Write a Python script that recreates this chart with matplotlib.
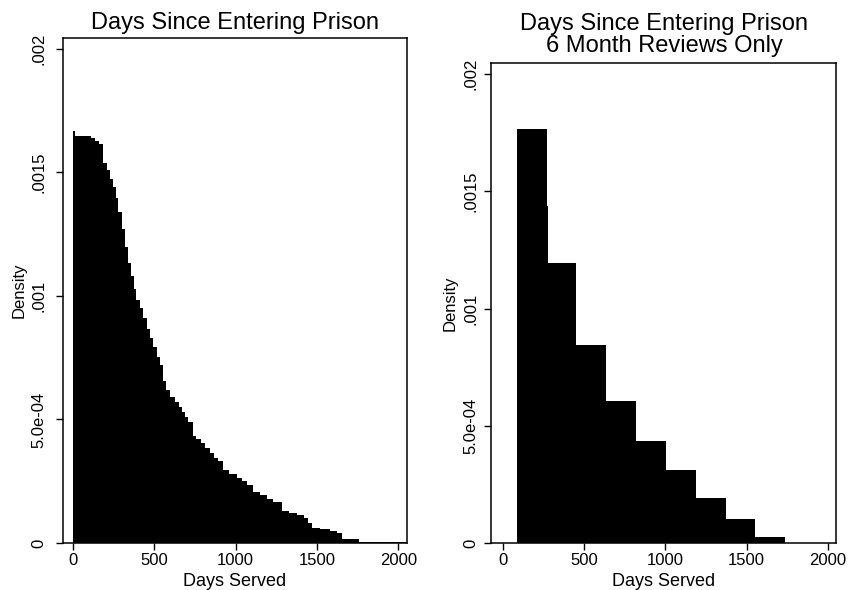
import numpy as np
import matplotlib
matplotlib.use("Agg")
import matplotlib.pyplot as plt

plt.rcParams['font.family'] = ['Liberation Sans', 'DejaVu Sans']

# all reviews: bin edges (days) and density
all_edges = [0, 15, 60, 115, 135, 160, 187, 210, 230, 250, 265, 280, 300, 320,
             340, 360, 375, 390, 410, 430, 455, 475, 495, 515, 535, 557, 575,
             600, 625, 650, 670, 690, 710, 737, 760, 785, 810, 840, 865, 895,
             925, 960, 1010, 1040, 1070, 1109, 1150, 1195, 1230, 1283, 1330,
             1380, 1420, 1445, 1468, 1520, 1580, 1620, 1652, 1760, 2050]
all_density = [0.001668, 0.001648, 0.001646, 0.001640, 0.001628, 0.001614,
               0.001540, 0.001512, 0.001475, 0.001440, 0.001395, 0.001340,
               0.001270, 0.001200, 0.001135, 0.001080, 0.001030, 0.000985,
               0.000950, 0.000910, 0.000865, 0.000830, 0.000795, 0.000755,
               0.000720, 0.000655, 0.000620, 0.000590, 0.000570, 0.000550,
               0.000530, 0.000510, 0.000490, 0.000435, 0.000420, 0.000405,
               0.000385, 0.000365, 0.000345, 0.000330, 0.000295, 0.000280,
               0.000265, 0.000250, 0.000235, 0.000205, 0.000195, 0.000180,
               0.000165, 0.000130, 0.000120, 0.000112, 0.000100, 0.000082,
               0.000062, 0.000055, 0.000048, 0.000040, 0.000016, 0.000006]

# 6 month reviews only
six_edges = [86, 270, 281, 448, 635, 819, 1003, 1187, 1372, 1554, 1734]
six_density = [0.001765, 0.001438, 0.001193, 0.000843, 0.000605, 0.000437,
               0.000313, 0.000194, 0.000103, 0.000024]

yticks = [0, 0.0005, 0.001, 0.0015, 0.002]
ylabels = ['0', '5.0e-04', '.001', '.0015', '.002']
xticks = [0, 500, 1000, 1500, 2000]

W, H = 849, 590
fig = plt.figure(figsize=(W / 100, H / 100), dpi=100)


def panel(rect, edges, dens, xlim, ytop, ypad, ylab_x, xlab_y):
    ax = fig.add_axes(rect)
    ax.stairs(dens, edges, fill=True, color='black', linewidth=0)
    ax.set_xlim(*xlim)
    ax.set_ylim(0, ytop)
    ax.set_xticks(xticks)
    ax.set_xticklabels([str(t) for t in xticks])
    ax.set_yticks(yticks)
    ax.set_yticklabels(ylabels)
    ax.tick_params(axis='both', direction='out', length=5, width=1,
                   labelsize=12, color='black')
    ax.tick_params(axis='x', pad=2.5)
    ax.tick_params(axis='y', labelrotation=90, pad=ypad)
    for lab in ax.get_yticklabels():
        lab.set_verticalalignment('center')
    for s in ax.spines.values():
        s.set_linewidth(1.1)
    ax.set_xlabel('Days Served', fontsize=13)
    ax.xaxis.set_label_coords(0.5, xlab_y)
    ax.set_ylabel('Density', fontsize=12)
    ax.yaxis.set_label_coords(ylab_x, 0.5)
    return ax


def rect(x0, x1, top, bottom):
    return [x0 / W, 1 - bottom / H, (x1 - x0) / W, (bottom - top) / H]


panel(rect(63, 407, 38, 543), all_edges, all_density, (-60, 2053),
      0.0020445, 7, -0.1055, -0.0594)
panel(rect(491, 836, 63, 543), six_edges, six_density, (-72, 2049),
      0.002047, 4, -0.097, -0.0625)

fig.text(235 / W, 1 - 29.5 / H, 'Days Since Entering Prison', fontsize=17,
         ha='center', va='baseline')
fig.text(664 / W, 1 - 30 / H, 'Days Since Entering Prison', fontsize=17,
         ha='center', va='baseline')
fig.text(664 / W, 1 - 52.3 / H, '6 Month Reviews Only', fontsize=17,
         ha='center', va='baseline')

fig.savefig('out.png', dpi=100, facecolor='white')
